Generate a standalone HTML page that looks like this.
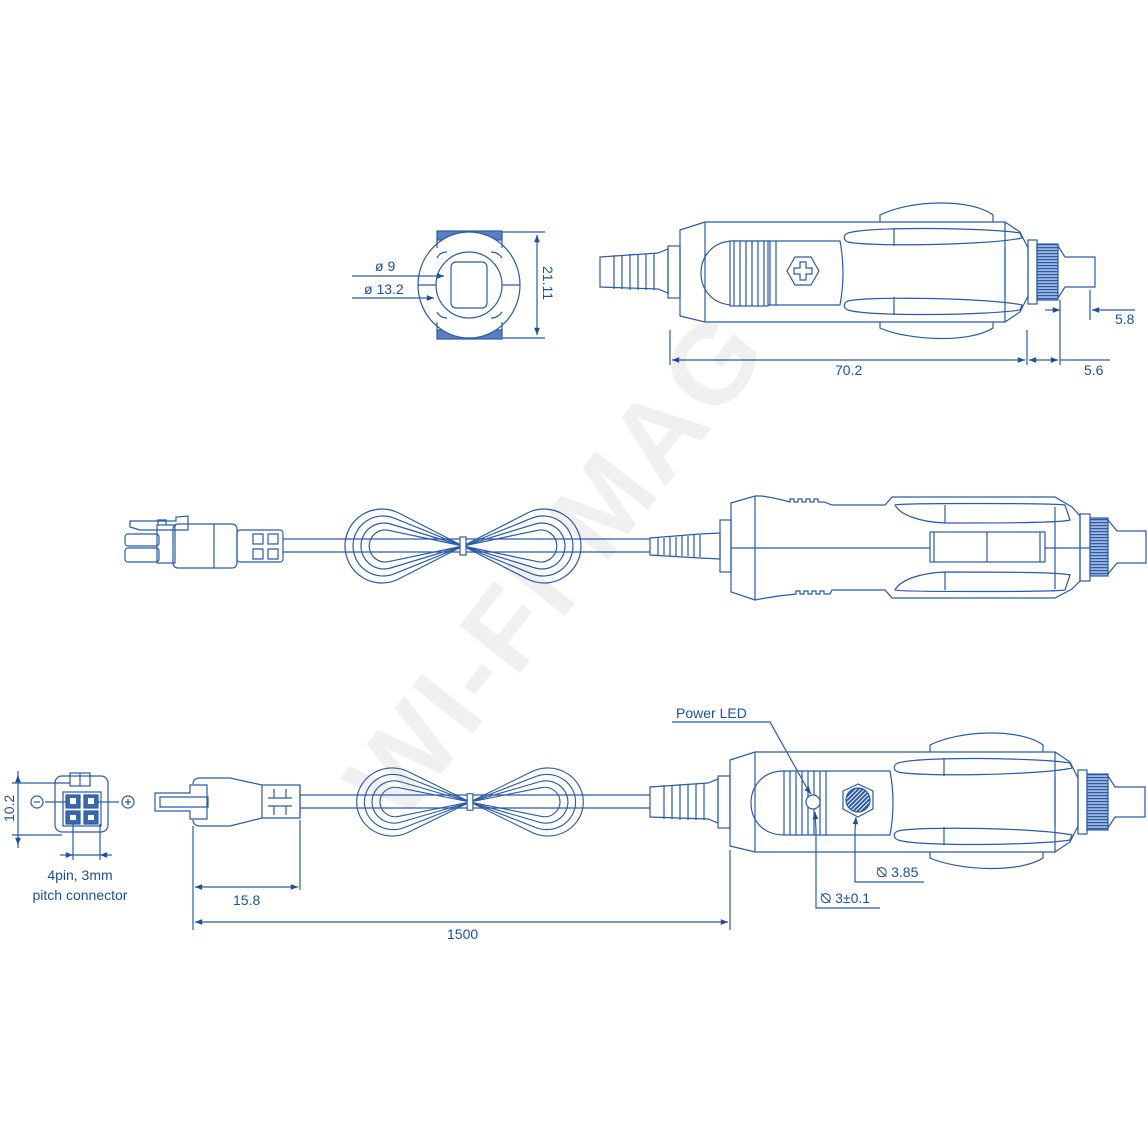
<!DOCTYPE html>
<html><head><meta charset="utf-8"><style>
html,body{margin:0;padding:0;background:#fff;}
svg{display:block;}
text{font-family:"Liberation Sans",sans-serif;fill:#1f4f9c;}
</style></head><body>
<svg width="1147" height="1147" viewBox="0 0 1147 1147" xmlns="http://www.w3.org/2000/svg">
<defs>
<marker id="ar" viewBox="0 0 10 10" refX="10" refY="5" markerWidth="8" markerHeight="6" orient="auto-start-reverse"><path d="M0,1 L10,5 L0,9z" fill="#1f4f9c"/></marker>
<pattern id="hatch" width="3" height="3" patternUnits="userSpaceOnUse" patternTransform="rotate(45)"><rect width="3" height="3" fill="#fff"/><rect width="2" height="3" fill="#2a5aa8"/></pattern>
<pattern id="knurl" width="4" height="3" patternUnits="userSpaceOnUse"><rect width="4" height="3" fill="#9fb6dc"/><rect width="4" height="1.2" fill="#2a5aa8"/></pattern>
<g id="lobes">
 <path d="M0,0 L-64.1,-32.9 A37,37 0 1,0 -64.1,32.9 Z M0,0 L64.1,-32.9 A37,37 0 1,1 64.1,32.9 Z"/>
 <path d="M0,0 L-68.7,-27.8 A30,30 0 1,0 -68.7,27.8 Z M0,0 L68.7,-27.8 A30,30 0 1,1 68.7,27.8 Z"/>
 <path d="M0,0 L-72.3,-22 A23,23 0 1,0 -72.3,22 Z M0,0 L72.3,-22 A23,23 0 1,1 72.3,22 Z"/>
 <path d="M0,0 L-74.7,-15.7 A16,16 0 1,0 -74.7,15.7 Z M0,0 L74.7,-15.7 A16,16 0 1,1 74.7,15.7 Z"/>
 <rect x="-3" y="-9" width="6" height="18" fill="#fff"/>
</g>
<g id="plug">
 <path d="M650,787 L708,783 L718,779 L718,823 L708,819 L650,817z"/>
 <path d="M664,785v34M672,785v34M680,784v36M688,784v36M696,784v36M704,784v36"/>
 <rect x="718" y="776" width="12" height="52"/>
 <path d="M730,760 L755,752 L930,752 L930,745 C960,730 1020,728 1043,745 L1043,752 L1055,752 L1070,762 L1078,778 L1078,826 L1070,842 L1055,852 L1043,852 L1043,858 C1020,873 960,871 930,858 L930,852 L755,852 L730,846z"/>
 <path d="M755,752v100M930,752h113M930,852h113M1055,752v100"/>
 <path d="M826,771 L890,771 Q896,803 890,835 L826,835"/>
 <path d="M826,771 L784,771 C740,771 740,835 784,835 L826,835z"/>
 <path d="M784,771v64M790,771v64M796,771v64M802,771v64M808,771v64M814,771v64M820,771v64"/>
 <path d="M898,763 C920,756 1040,758 1070,763 L1072,768 C1040,775 920,777 898,772 C893,770 893,765 898,763z"/>
 <path d="M898,840 C920,847 1040,845 1070,840 L1072,835 C1040,828 920,826 898,831 C893,833 893,838 898,840z"/>
 <path d="M944,758v18M944,827v18M1055,777v50"/>
 <rect x="1078" y="770" width="9" height="64"/>
 <rect x="1087" y="774" width="21" height="56" fill="url(#knurl)"/>
 <path d="M1108,776 L1115,787 L1145,787 L1145,817 L1115,817 L1108,828"/>
</g>
</defs>

<text x="0" y="0" transform="translate(585,590) rotate(-52)" text-anchor="middle" font-size="112" font-weight="bold" style="fill:#f0f0f0" textLength="600">WI-FI MAG</text>

<g fill="none" stroke="#2a5aa8" stroke-width="1.2">
<rect x="437" y="231" width="65" height="9" fill="#5a7fc0"/>
<rect x="437" y="330" width="65" height="9" fill="#5a7fc0"/>
<ellipse cx="469" cy="285" rx="51" ry="53" fill="#fff"/>
<circle cx="469" cy="285" r="33"/>
<rect x="451" y="262" width="36" height="46" rx="5"/>
<path d="M437,240 v8 M502,240 v8 M437,330 v-8 M502,330 v-8 M418,285 h18 M502,285 h18"/>
<path d="M437,258 Q440,252 447,252 M502,258 Q498,252 491,252 M437,312 Q440,318 447,318 M502,312 Q498,318 491,318"/>
<path d="M502,232 H545 M502,338 H545"/>
<path d="M537,235 V335" marker-start="url(#ar)" marker-end="url(#ar)"/>
<path d="M352,276 H444" marker-end="url(#ar)"/>
<path d="M352,298 H434" marker-end="url(#ar)"/>

<g transform="translate(-50,-530)">
 <use href="#plug"/>
</g>
<rect x="730" y="241" width="38" height="65" fill="#fff"/>
<path d="M734,241v65M740,241v65M746,241v65M752,241v65M758,241v65M764,241v65"/>
<path d="M795,257 L811,257 L819,271 L811,285 L795,285 L787,271z" fill="#fff"/>
<path d="M800,262 h6 v6 h6 v6 h-6 v6 h-6 v-6 h-6 v-6 h6z"/>
<path d="M670,330 V365 M1027,330 V365 M1060,300 V365 M1090,290 V320"/>
<path d="M672,360 H1025" marker-start="url(#ar)" marker-end="url(#ar)"/>
<path d="M1029,360 H1058" marker-end="url(#ar)" marker-start="url(#ar)"/>
<path d="M1060,360 H1110"/>
<path d="M1045,310 H1060" marker-end="url(#ar)"/>
<path d="M1135,310 H1092" marker-end="url(#ar)"/>

<path d="M130,521 L130,527 L140,530 L188,530 L188,516 L176,517 L176,521z"/>
<rect x="125" y="534" width="34" height="12" rx="3"/>
<rect x="125" y="548" width="34" height="14" rx="3"/>
<rect x="157" y="525" width="18" height="38"/>
<rect x="173" y="524" width="64" height="44" rx="5"/>
<path d="M214,524v44M158,525 v-5 h8 v5"/>
<rect x="237" y="530" width="46" height="32" rx="3"/>
<path d="M253,534 h10 v10 h-10z M268,534 h10 v10 h-10z M253,549 h10 v10 h-10z M268,549 h10 v10 h-10z"/>
<path d="M283,539 H650 M283,552 H650"/>
<g transform="translate(463,546)"><use href="#lobes"/></g>
<path d="M650,538 L700,534 L720,533 L720,559 L700,558 L650,555z"/>
<path d="M658,538v17M664,538v17M670,537v19M676,537v19M682,536v20M688,536v20M694,535v22M700,535v22"/>
<rect x="720" y="520" width="11" height="52"/>
<path d="M731,503 L755,496 L762,496 C775,498 783,500 790,502 l0,-3 h4 v3 h4 v-3 h4 v3 h4 v-3 h4 v3 h4 v-3 h4 v3 h6 L832,505 L885,505 L892,497 L1055,497 L1072,507 L1080,516 L1080,581 L1072,589 L1055,598 L892,598 L885,590 L832,590 L830,594 h-6 v-3 h-4 v3 h-4 v-3 h-4 v3 h-4 v-3 h-4 v3 h-4 v-3 h-4 v3 C775,596 765,598 755,600 L731,592z"/>
<path d="M755,496v104M731,548 H930 M1045,548 H1090"/>
<path d="M895,505 C900,503 1050,503 1065,505 L1070,520 C1060,523 990,523 945,523 C920,522 900,515 895,505z"/>
<path d="M895,590 C900,592 1050,592 1065,590 L1070,575 C1060,572 990,572 945,572 C920,573 900,580 895,590z"/>
<path d="M945,505v18M945,572v18M1055,507v82"/>
<rect x="930" y="532" width="115" height="30"/>
<path d="M934,532v30M987,532v30M1040,532v30"/>
<rect x="1080" y="514" width="10" height="67"/>
<rect x="1090" y="518" width="18" height="58" fill="url(#knurl)"/>
<path d="M1108,520 L1117,531 L1146,531 L1146,563 L1117,563 L1108,574"/>

<rect x="55" y="776" width="53" height="56" rx="7"/>
<rect x="70" y="773" width="20" height="13"/>
<path d="M80,773v13"/>
<rect x="63" y="792" width="38" height="34"/>
<rect x="66" y="795" width="14" height="13" fill="#3c68b0"/>
<rect x="84" y="795" width="14" height="13" fill="#3c68b0"/>
<rect x="66" y="811" width="14" height="13" fill="#3c68b0"/>
<rect x="84" y="811" width="14" height="13" fill="#3c68b0"/>
<rect x="70" y="798" width="6" height="6" fill="#fff" stroke="none"/><rect x="88" y="798" width="6" height="6" fill="#fff" stroke="none"/>
<rect x="70" y="815" width="6" height="5" fill="#fff" stroke="none"/><rect x="88" y="815" width="6" height="5" fill="#fff" stroke="none"/>
<circle cx="37" cy="802" r="6"/><path d="M34,802h6"/>
<circle cx="128" cy="802" r="6"/><path d="M125,802h6M128,799v6"/>
<path d="M45,802 H66 M98,802 H119"/>
<path d="M12,783 H70 M12,835 H62"/>
<path d="M18,771 V848" />
<path d="M18,775 V783" marker-start="url(#ar)"/>
<path d="M18,835 V845" marker-end="url(#ar)"/>
<path d="M73,824 V860 M100,824 V860"/>
<path d="M60,855 H73" marker-end="url(#ar)"/><path d="M112,855 H100" marker-end="url(#ar)"/>
<path d="M73,855 H100"/>
<path d="M155,793 h35 v-8 h17 v34 h-17 v-8 h-35z"/>
<path d="M160,797 h48 v10 h-48z"/>
<path d="M193,784 C193,780 196,778 200,778 L230,778 L262,785 L300,785 L300,818 L262,818 L230,826 L200,826 C196,826 193,824 193,820"/>
<path d="M262,785v33M300,785v33"/>
<path d="M274,789v9M286,789v9M274,806v9M286,806v9M268,798h24M268,806h24"/>
<path d="M300,795 H650 M300,808 H650"/>
<g transform="translate(470,802) scale(0.96,0.92)"><use href="#lobes"/></g>
<use href="#plug"/>
<circle cx="813" cy="802" r="7" fill="#fff"/>
<path d="M843,791 L858,784 L873,791 L873,809 L858,817 L843,809z" fill="#fff"/>
<circle cx="858" cy="800" r="12" fill="url(#hatch)"/>
<path d="M672,722 H770 L808,790" />
<path d="M808,790 L811,794" marker-end="url(#ar)"/>
<path d="M816,830 L815,812" marker-end="url(#ar)"/>
<path d="M816,830 V908 H880"/>
<path d="M855,830 L856,817" marker-end="url(#ar)"/>
<path d="M855,830 V882 H924"/>
<path d="M193,826 V930 M300,820 V890 M730,850 V930"/>
<path d="M195,887 H298" marker-start="url(#ar)" marker-end="url(#ar)"/>
<path d="M195,922 H728" marker-start="url(#ar)" marker-end="url(#ar)"/>
</g>

<g font-size="14">
<text x="375" y="271">ø 9</text>
<text x="364" y="294">ø 13.2</text>
<text x="0" y="0" transform="translate(543,266) rotate(90)">21.11</text>
<text x="835" y="375">70.2</text>
<text x="1084" y="375">5.6</text>
<text x="1115" y="324">5.8</text>
<text x="676" y="718">Power LED</text>
<text x="0" y="0" transform="translate(14,822) rotate(-90)">10.2</text>
<text x="80" y="880" text-anchor="middle">4pin, 3mm</text>
<text x="80" y="900" text-anchor="middle">pitch connector</text>
<text x="233" y="905">15.8</text>
<text x="447" y="939">1500</text>
<text x="876" y="877">⦰ 3.85</text>
<text x="820" y="903">⦰ 3±0.1</text>
</g>
</svg>
</body></html>
